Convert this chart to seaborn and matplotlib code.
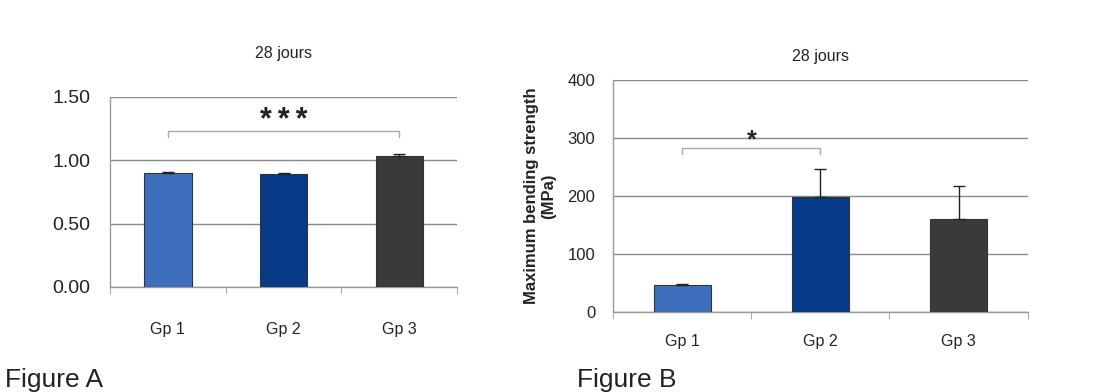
import matplotlib.pyplot as plt
import seaborn as sns
import pandas as pd

# data
groups = ['Gp 1', 'Gp 2', 'Gp 3']
colors = ['#3d6fbc', '#073a87', '#3a3a3c']

vals_a = [0.90, 0.89, 1.03]
err_a = [0.008, 0.008, 0.015]

vals_b = [46, 199, 161]
err_b = [2, 48, 56]

sns.set_style('white')
plt.rcParams['font.family'] = ['Liberation Sans', 'DejaVu Sans']

fig = plt.figure(figsize=(10.99, 3.92), dpi=100)
ax1 = fig.add_axes([0.100, 0.268, 0.316, 0.485])
ax2 = fig.add_axes([0.558, 0.204, 0.377, 0.592])


def draw_panel(ax, vals, err, ymax, step, fmt, tick_size):
    df = pd.DataFrame({'group': groups, 'value': vals})
    sns.barplot(data=df, x='group', y='value', hue='group', palette=colors,
                width=0.41, edgecolor='#333333', linewidth=0.8, saturation=1,
                legend=False, ax=ax, zorder=3)
    ax.errorbar(range(len(vals)), vals, yerr=[[0] * len(err), err],
                fmt='none', ecolor='#222222', elinewidth=1, capsize=4,
                capthick=1, zorder=4)
    ax.set_xlim(-0.5, 2.5)
    ax.set_ylim(0, ymax)
    ticks = [i * step for i in range(int(round(ymax / step)) + 1)]
    ax.set_yticks(ticks)
    ax.set_yticklabels([fmt.format(t) for t in ticks], fontsize=tick_size,
                       color='#222222')
    ax.yaxis.grid(True, color='#8a8a8a', linewidth=1)
    ax.set_axisbelow(True)
    for s in ['top', 'right']:
        ax.spines[s].set_visible(False)
    for s in ['left', 'bottom']:
        ax.spines[s].set_color('#9a9a9a')
        ax.spines[s].set_linewidth(1)
    ax.set_xlabel('')
    ax.set_ylabel('')
    ax.set_xticks([-0.5, 0.5, 1.5, 2.5], minor=True)
    ax.tick_params(axis='x', which='minor', length=5, color='#9a9a9a',
                   direction='out', bottom=True)
    ax.tick_params(axis='x', which='major', length=0,
                   labelsize=11.5, labelcolor='#222222')


draw_panel(ax1, vals_a, err_a, 1.5, 0.5, '{:.2f}', 14)
draw_panel(ax2, vals_b, err_b, 400, 100, '{:.0f}', 12)

ax1.set_title('28 jours', fontsize=11.5, color='#222222', pad=28)
ax2.set_title('28 jours', fontsize=11.5, color='#222222', pad=14)
ax1.tick_params(axis='y', length=0, pad=14)
ax2.tick_params(axis='y', length=0, pad=13)
ax1.tick_params(axis='x', which='major', pad=25)
ax2.tick_params(axis='x', which='major', pad=16)

# significance brackets
br = '#aaaaaa'
ax1.plot([0, 0, 2, 2], [1.18, 1.23, 1.23, 1.18], color=br, lw=1, zorder=5)
ax1.text(1, 1.19, '*\u2009*\u2009*', ha='center', va='bottom', fontsize=22,
         fontweight='bold', color='#222222')
ax2.plot([0, 0, 1, 1], [272, 283, 283, 272], color=br, lw=1, zorder=5)
ax2.text(0.5, 276, '*', ha='center', va='bottom', fontsize=18,
         fontweight='bold', color='#222222')

ax2.set_ylabel('Maximum bending strength\n(MPa)', fontsize=12,
               fontweight='bold', color='#222222', labelpad=8)

fig.text(0.005, 0.012, 'Figure A', fontsize=19, color='#222222')
fig.text(0.525, 0.012, 'Figure B', fontsize=19, color='#222222')

fig.savefig('out.png', dpi=100)
